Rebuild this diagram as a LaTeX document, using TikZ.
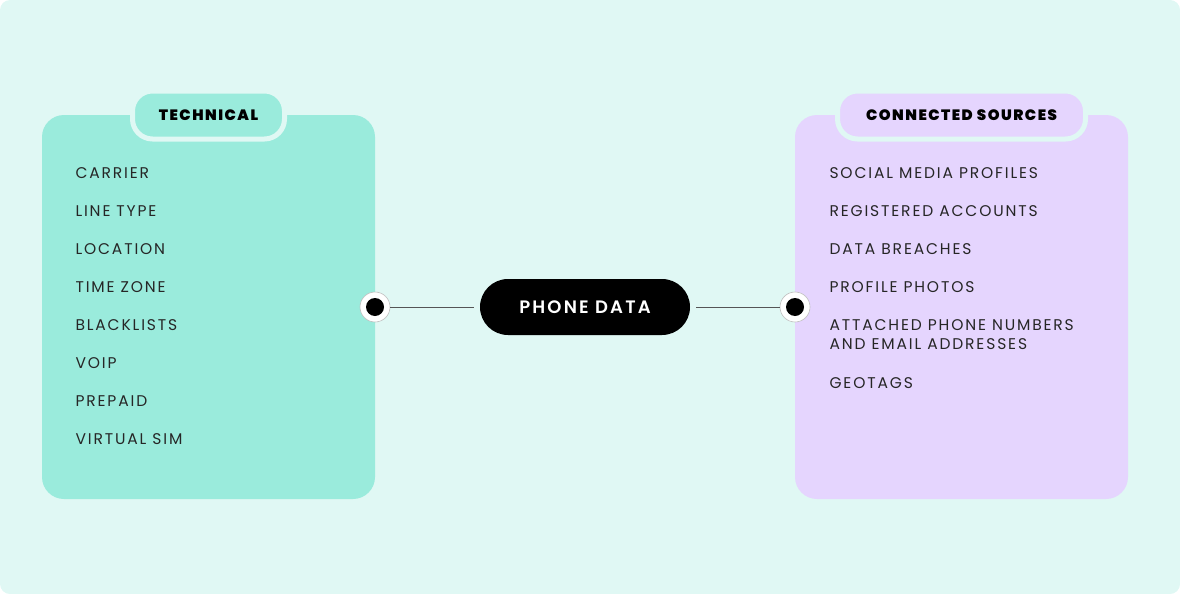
\documentclass[tikz,border=0pt]{standalone}
\usepackage{fontspec}
\setmainfont{Poppins}
\newfontfamily\itemfont[LetterSpace=12]{Poppins}
\newfontfamily\tabfont[LetterSpace=10]{Poppins Black}
\newfontfamily\pillfont[LetterSpace=12]{Poppins SemiBold}
\usepackage{tikz}
\usetikzlibrary{positioning}
\definecolor{bgcolor}{HTML}{E0F8F4}
\definecolor{techcolor}{HTML}{9AEBDC}
\definecolor{srccolor}{HTML}{E5D5FE}
\definecolor{linecolor}{HTML}{555555}

\begin{document}
\begin{tikzpicture}[
    x=1pt, y=-1pt,
    panel/.style={fill=#1, rounded corners=22pt},
    tab/.style={fill=#1, draw=bgcolor, line width=5pt, rounded corners=20pt, minimum height=48pt, font=\tabfont\fontsize{15}{18}\selectfont, text=black},
    item/.style={anchor=west, font=\itemfont\fontsize{15.5}{19}\selectfont, text=black!85, align=left},
    port/.style={circle, fill=white, draw=black!25, line width=0.6pt, minimum size=30pt, inner sep=0pt},
    dot/.style={circle, fill=black, minimum size=18pt, inner sep=0pt}
]
    % Background
    \fill[bgcolor, rounded corners=10pt] (0,0) rectangle (1180,594);
    \useasboundingbox (0,0) rectangle (1180,594);

    % Panels
    \fill[panel=techcolor] (42,115) rectangle (375,499);
    \fill[panel=srccolor] (795,115) rectangle (1128,499);

    % Tabs
    \node[tab=techcolor, minimum width=152pt] (tech) at (208.5,115) {TECHNICAL};
    \node[tab=srccolor, minimum width=248pt] (src) at (961.5,115) {CONNECTED SOURCES};

    % Technical items
    \foreach \t [count=\i from 0] in {CARRIER, LINE TYPE, LOCATION, TIME ZONE, BLACKLISTS, VOIP, PREPAID, VIRTUAL SIM} {
        \node[item] (t\i) at (72,173+\i*38) {\t};
    }

    % Connected source items
    \node[item] (s0) at (826,173) {SOCIAL MEDIA PROFILES};
    \node[item] (s1) at (826,211) {REGISTERED ACCOUNTS};
    \node[item] (s2) at (826,249) {DATA BREACHES};
    \node[item] (s3) at (826,287) {PROFILE PHOTOS};
    \node[item, text depth=0pt] (s4) at (826,335) {ATTACHED PHONE NUMBERS\\AND EMAIL ADDRESSES};
    \node[item] (s5) at (826,383) {GEOTAGS};

    % Centre
    \node[fill=black, text=white, rounded corners=28pt, minimum width=210pt, minimum height=56pt,
          font=\pillfont\fontsize{18}{20}\selectfont] (phone) at (585,307) {PHONE DATA};

    % Ports
    \node[port] (pl) at (375,307) {};
    \node[dot] at (pl) {};
    \node[port] (pr) at (795,307) {};
    \node[dot] at (pr) {};

    \draw[linecolor, line width=1pt] (pl) -- ([xshift=-6pt]phone.west);
    \draw[linecolor, line width=1pt] ([xshift=6pt]phone.east) -- (pr);
\end{tikzpicture}
\end{document}
